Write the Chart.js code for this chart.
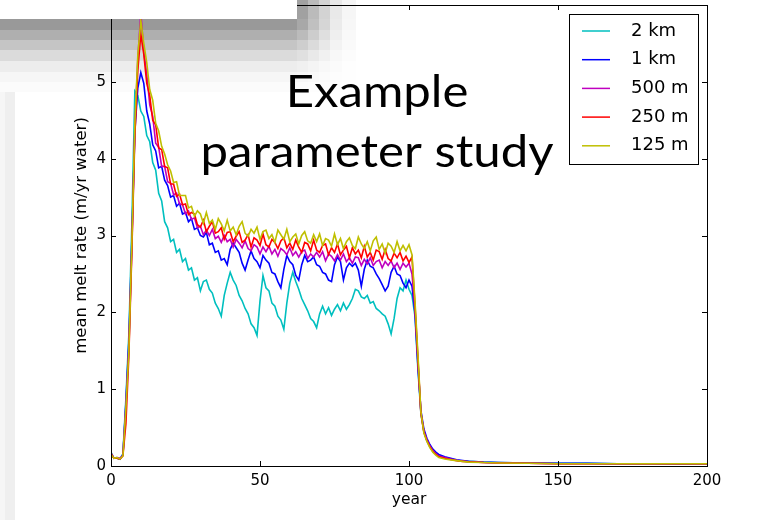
<!DOCTYPE html>
<html>
<head>
<meta charset="utf-8">
<script src="https://cdn.jsdelivr.net/npm/chart.js@4.4.1/dist/chart.umd.min.js"></script>
<style>
  html, body { margin: 0; padding: 0; background: #fff; }
</style>
</head>
<body>
<canvas id="chart" width="769" height="520"></canvas>
<script>
// year axis (dense up to 110, sparse tail)
var years = [
  0, 1, 2, 3, 4, 5, 6, 7, 8, 9,
  10, 11, 12, 13, 14, 15, 16, 17, 18, 19,
  20, 21, 22, 23, 24, 25, 26, 27, 28, 29,
  30, 31, 32, 33, 34, 35, 36, 37, 38, 39,
  40, 41, 42, 43, 44, 45, 46, 47, 48, 49,
  50, 51, 52, 53, 54, 55, 56, 57, 58, 59,
  60, 61, 62, 63, 64, 65, 66, 67, 68, 69,
  70, 71, 72, 73, 74, 75, 76, 77, 78, 79,
  80, 81, 82, 83, 84, 85, 86, 87, 88, 89,
  90, 91, 92, 93, 94, 95, 96, 97, 98, 99,
  100, 101, 102, 103, 104, 105, 106, 107, 108, 109,
  110, 112, 114, 116, 118, 120, 125, 130, 140, 150, 160, 170, 180, 190, 200
];

var melt2km = [
  0.18, 0.10, 0.11, 0.09, 0.16, 0.88, 1.72, 3.15, 4.88, 4.82,
  4.62, 4.55, 4.30, 4.22, 3.95, 3.85, 3.55, 3.45, 3.18, 3.10,
  2.92, 2.95, 2.78, 2.82, 2.66, 2.70, 2.55, 2.58, 2.42, 2.45,
  2.28, 2.40, 2.42, 2.30, 2.25, 2.12, 2.05, 1.95, 2.22, 2.38,
  2.52, 2.42, 2.35, 2.22, 2.15, 2.05, 1.98, 1.85, 1.80, 1.70,
  2.15, 2.48, 2.32, 2.28, 2.12, 2.08, 1.95, 1.90, 1.78, 2.12,
  2.38, 2.52, 2.40, 2.30, 2.18, 2.10, 2.02, 1.92, 1.88, 1.80,
  1.98, 2.08, 1.98, 2.06, 1.96, 2.04, 2.10, 2.02, 2.12, 2.04,
  2.10, 2.18, 2.30, 2.28, 2.20, 2.18, 2.22, 2.12, 2.14, 2.05,
  2.02, 1.98, 1.95, 1.85, 1.72, 1.92, 2.18, 2.32, 2.28, 2.42,
  2.30, 2.22, 1.95, 1.25, 0.68, 0.45, 0.33, 0.26, 0.20, 0.17,
  0.14, 0.11, 0.09, 0.075, 0.065, 0.06, 0.05, 0.045, 0.04, 0.035, 0.035, 0.03, 0.03, 0.03, 0.03
];

var melt1km = [
  0.16, 0.10, 0.10, 0.09, 0.14, 0.82, 1.62, 2.95, 4.35, 4.92,
  5.12, 4.98, 4.62, 4.45, 4.18, 4.10, 3.88, 3.90, 3.72, 3.65,
  3.50, 3.52, 3.38, 3.42, 3.28, 3.30, 3.18, 3.22, 3.08, 3.10,
  3.00, 2.98, 3.04, 2.88, 2.90, 2.78, 2.80, 2.68, 2.70, 2.62,
  2.82, 2.90, 2.84, 2.78, 2.64, 2.55, 2.68, 2.80, 2.70, 2.66,
  2.58, 2.74, 2.68, 2.64, 2.52, 2.50, 2.40, 2.32, 2.56, 2.74,
  2.66, 2.62, 2.48, 2.42, 2.62, 2.74, 2.66, 2.68, 2.72, 2.62,
  2.60, 2.52, 2.50, 2.42, 2.40, 2.62, 2.72, 2.66, 2.42, 2.58,
  2.64, 2.60, 2.64, 2.55, 2.34, 2.56, 2.68, 2.60, 2.58, 2.50,
  2.44, 2.36, 2.28, 2.34, 2.52, 2.60, 2.50, 2.48, 2.38, 2.32,
  2.42, 2.34, 2.00, 1.30, 0.72, 0.48, 0.36, 0.28, 0.22, 0.18,
  0.15, 0.12, 0.10, 0.08, 0.07, 0.06, 0.05, 0.045, 0.04, 0.035, 0.035, 0.03, 0.03, 0.025, 0.03
];

var melt500m = [
  0.17, 0.10, 0.11, 0.10, 0.14, 0.78, 1.55, 2.85, 4.40, 5.30,
  5.90, 5.40, 5.10, 4.70, 4.55, 4.20, 4.15, 3.90, 3.90, 3.70,
  3.68, 3.53, 3.55, 3.41, 3.40, 3.28, 3.32, 3.21, 3.23, 3.10,
  3.12, 3.01, 3.07, 3.00, 3.08, 2.96, 2.99, 2.91, 3.00, 2.92,
  2.95, 2.85, 2.95, 2.90, 2.84, 2.93, 2.83, 2.80, 2.88, 2.85,
  2.76, 2.85, 2.79, 2.86, 2.76, 2.82, 2.73, 2.83, 2.80, 2.75,
  2.84, 2.74, 2.79, 2.72, 2.79, 2.81, 2.70, 2.76, 2.72, 2.78,
  2.72, 2.79, 2.67, 2.76, 2.73, 2.67, 2.75, 2.68, 2.76, 2.66,
  2.71, 2.64, 2.72, 2.71, 2.61, 2.69, 2.63, 2.71, 2.61, 2.66,
  2.68, 2.58, 2.66, 2.61, 2.67, 2.58, 2.64, 2.56, 2.64, 2.59,
  2.64, 2.50, 2.05, 1.35, 0.70, 0.45, 0.34, 0.26, 0.20, 0.16,
  0.13, 0.11, 0.09, 0.075, 0.065, 0.055, 0.045, 0.04, 0.035, 0.03, 0.03, 0.03, 0.03, 0.03, 0.03
];

var melt250m = [
  0.16, 0.10, 0.10, 0.09, 0.13, 0.55, 1.45, 2.80, 4.30, 5.15,
  5.62, 5.36, 4.98, 4.82, 4.50, 4.44, 4.14, 4.12, 3.90, 3.88,
  3.67, 3.67, 3.51, 3.54, 3.40, 3.41, 3.27, 3.30, 3.28, 3.14,
  3.11, 3.20, 3.05, 3.12, 3.18, 3.03, 3.05, 3.10, 2.95, 3.04,
  3.05, 2.92, 2.99, 3.05, 2.91, 2.94, 3.01, 2.85, 2.97, 2.94,
  2.87, 3.02, 2.88, 2.85, 2.95, 2.91, 2.83, 2.93, 2.97, 2.84,
  2.90, 2.82, 2.94, 2.85, 2.78, 2.91, 2.89, 2.80, 2.94, 2.81,
  2.78, 2.87, 2.89, 2.75, 2.84, 2.78, 2.89, 2.75, 2.81, 2.86,
  2.71, 2.84, 2.76, 2.81, 2.71, 2.86, 2.72, 2.78, 2.68, 2.81,
  2.79, 2.69, 2.82, 2.70, 2.67, 2.77, 2.71, 2.78, 2.67, 2.73,
  2.65, 2.72, 2.10, 1.40, 0.68, 0.44, 0.33, 0.25, 0.19, 0.15,
  0.12, 0.10, 0.085, 0.07, 0.06, 0.055, 0.045, 0.04, 0.035, 0.03, 0.03, 0.03, 0.03, 0.03, 0.03
];

var melt125m = [
  0.15, 0.10, 0.11, 0.09, 0.13, 0.75, 1.50, 2.90, 4.45, 5.35,
  5.80, 5.50, 5.25, 4.90, 4.76, 4.46, 4.36, 4.16, 4.06, 3.92,
  3.84, 3.69, 3.70, 3.52, 3.52, 3.52, 3.36, 3.38, 3.25, 3.32,
  3.28, 3.16, 3.30, 3.16, 3.20, 3.08, 3.22, 3.15, 3.06, 3.20,
  3.06, 3.11, 3.01, 3.12, 3.18, 3.03, 2.99, 3.08, 3.03, 3.11,
  2.95, 3.05, 3.07, 2.96, 3.01, 2.91, 3.07, 3.01, 2.95, 3.08,
  2.92, 2.98, 3.02, 2.89, 3.00, 3.05, 2.93, 2.90, 3.01, 2.92,
  3.02, 2.87, 2.96, 2.94, 2.86, 3.02, 2.88, 2.96, 2.83, 2.92,
  2.97, 2.87, 2.83, 2.98, 2.89, 2.83, 2.92, 2.80, 2.93, 2.98,
  2.82, 2.89, 2.77, 2.90, 2.86, 2.78, 2.92, 2.80, 2.87, 2.80,
  2.88, 2.75, 2.15, 1.45, 0.70, 0.43, 0.32, 0.24, 0.18, 0.14,
  0.11, 0.09, 0.08, 0.07, 0.06, 0.05, 0.045, 0.04, 0.035, 0.03, 0.03, 0.03, 0.03, 0.03, 0.03
];

var seriesLabels = ['2 km', '1 km', '500 m', '250 m', '125 m'];
var seriesColors = ['#00bfbf', '#0000ff', '#bf00bf', '#ff0000', '#bfbf00'];
var seriesValues = [melt2km, melt1km, melt500m, melt250m, melt125m];
var xTicks = [0, 50, 100, 150, 200];
var yTicks = [0, 1, 2, 3, 4, 5];

var FONT = "'DejaVu Sans', sans-serif";

function toPoints(vals) {
  return vals.map(function (v, i) { return { x: years[i], y: v }; });
}

var datasets = seriesValues.map(function (vals, i) {
  return {
    label: seriesLabels[i],
    data: toPoints(vals),
    borderColor: seriesColors[i],
    backgroundColor: seriesColors[i],
    borderWidth: 1.6,
    pointRadius: 0,
    tension: 0,
    fill: false,
    order: seriesValues.length - i  // last series drawn on top, like matplotlib
  };
});

// grey shadow left over from the slide, behind the plot
var slideBackdrop = {
  id: 'slideBackdrop',
  beforeDraw: function (chart) {
    var ctx = chart.ctx;
    ctx.save();
    ctx.fillStyle = '#fff';
    ctx.fillRect(0, 0, chart.width, chart.height);
    ctx.fillStyle = '#f6f6f6';
    ctx.fillRect(0, 0, 5, chart.height);
    ctx.fillStyle = '#efefef';
    ctx.fillRect(5, 0, 10, chart.height);
    var rows = [[0, 19, 110], [19, 11, 102], [30, 10, 80], [40, 10, 58], [50, 11, 36], [61, 11, 18], [72, 10, 9], [82, 10, 4]];
    var cols = [[0, 297, 1], [297, 11, 0.85], [308, 11, 0.62], [319, 11, 0.4], [330, 12, 0.2], [342, 14, 0.08]];
    rows.forEach(function (r) {
      cols.forEach(function (c) {
        var g = 255 - Math.round(r[2] * c[2]);
        ctx.fillStyle = 'rgb(' + g + ',' + g + ',' + g + ')';
        ctx.fillRect(c[0], r[0], c[1], r[1]);
      });
    });
    ctx.restore();
  }
};

// matplotlib-style frame, inward ticks, boxed legend, slide title, white box
var mplDecor = {
  id: 'mplDecor',
  afterDraw: function (chart) {
    var ctx = chart.ctx, a = chart.chartArea;
    var xs = chart.scales.x, ys = chart.scales.y;
    ctx.save();
    ctx.strokeStyle = '#000';
    ctx.lineWidth = 1;
    ctx.strokeRect(a.left + 0.5, a.top + 0.5, a.right - a.left, a.bottom - a.top);

    ctx.beginPath();
    xTicks.forEach(function (t) {
      var px = Math.round(xs.getPixelForValue(t)) + 0.5;
      ctx.moveTo(px, a.bottom); ctx.lineTo(px, a.bottom - 5);
      ctx.moveTo(px, a.top); ctx.lineTo(px, a.top + 5);
    });
    yTicks.forEach(function (t) {
      var py = Math.round(ys.getPixelForValue(t)) + 0.5;
      ctx.moveTo(a.left, py); ctx.lineTo(a.left + 5, py);
      ctx.moveTo(a.right, py); ctx.lineTo(a.right - 5, py);
    });
    ctx.stroke();

    // legend box, upper right inside the axes
    var bw = 129, rowH = 28.7;
    var bx = a.right - 9 - bw, by = a.top + 9;
    var bh = rowH * chart.data.datasets.length + 6;
    ctx.fillStyle = '#fff';
    ctx.fillRect(bx, by, bw, bh);
    ctx.strokeStyle = '#000';
    ctx.strokeRect(Math.round(bx) + 0.5, Math.round(by) + 0.5, bw, Math.round(bh));
    ctx.font = '18px ' + FONT;
    ctx.textBaseline = 'middle';
    ctx.textAlign = 'left';
    chart.data.datasets.forEach(function (ds, i) {
      var ry = by + 17 + i * rowH;
      ctx.strokeStyle = ds.borderColor;
      ctx.lineWidth = 1.5;
      ctx.beginPath();
      ctx.moveTo(bx + 13, ry); ctx.lineTo(bx + 41, ry);
      ctx.stroke();
      ctx.fillStyle = '#000';
      ctx.fillText(ds.label, bx + 62, ry);
    });

    // slide title text over the plot
    ctx.fillStyle = '#000';
    ctx.textAlign = 'center';
    ctx.textBaseline = 'alphabetic';
    ctx.font = '44px Lato, "Open Sans", sans-serif';
    var sx = 353 / ctx.measureText('parameter study').width;
    ctx.save();
    ctx.translate(377, 0);
    ctx.scale(sx, 1);
    ctx.fillText('Example', 0, 107);
    ctx.fillText('parameter study', 0, 167);
    ctx.restore();

    // white slide box covering the top-left corner
    ctx.fillStyle = '#fff';
    ctx.fillRect(0, 0, 297, 19);
    ctx.restore();
  }
};

Chart.defaults.font.family = FONT;
Chart.defaults.color = '#000';

new Chart(document.getElementById('chart'), {
  type: 'line',
  data: { datasets: datasets },
  plugins: [slideBackdrop, mplDecor],
  options: {
    responsive: false,
    animation: false,
    layout: { padding: { top: 5, right: 62, bottom: 0, left: 0 } },
    plugins: { legend: { display: false }, tooltip: { enabled: false } },
    scales: {
      x: {
        type: 'linear',
        min: 0,
        max: 200,
        grid: { display: false, drawTicks: false },
        border: { display: false },
        afterBuildTicks: function (s) { s.ticks = xTicks.map(function (v) { return { value: v }; }); },
        afterFit: function (s) { s.height = 54; s.paddingLeft = 0; s.paddingRight = 0; },
        ticks: { font: { size: 15 }, padding: 6, maxRotation: 0 },
        title: { display: true, text: 'year', font: { size: 15.5 }, padding: { top: 0, bottom: 11 } }
      },
      y: {
        min: 0,
        max: 6,
        grid: { display: false, drawTicks: false },
        border: { display: false },
        afterBuildTicks: function (s) { s.ticks = yTicks.map(function (v) { return { value: v }; }); },
        afterFit: function (s) { s.width = 111; s.paddingTop = 0; s.paddingBottom = 0; },
        ticks: { font: { size: 15 }, padding: 5 },
        title: { display: true, text: 'mean melt rate (m/yr water)', font: { size: 16.5 }, padding: { top: 72, bottom: 0 } }
      }
    }
  }
});
</script>
</body>
</html>
